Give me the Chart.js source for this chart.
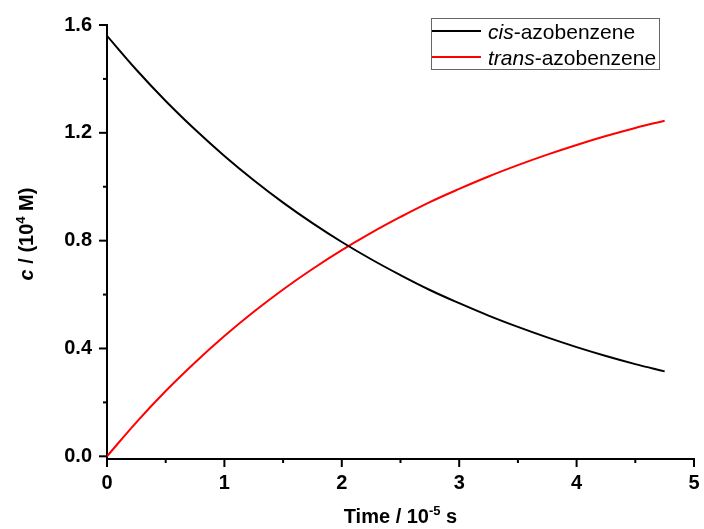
<!DOCTYPE html>
<html>
<head>
<meta charset="utf-8">
<script src="https://cdn.jsdelivr.net/npm/chart.js@4"></script>
<style>
  body { margin: 0; background: #fff; }
  #wrap { width: 704px; height: 529px; }
</style>
</head>
<body>
<div id="wrap"><canvas id="kinetics-chart"></canvas></div>
<script>
// data (time in 10^-5 s, concentration in 10^4 M)
let timeValues = [0, 0.25, 0.5, 0.75, 1, 1.25, 1.5, 1.75, 2, 2.25, 2.5, 2.75, 3, 3.25, 3.5, 3.75, 4, 4.25, 4.5, 4.75];
let cisValues = [1.560, 1.434, 1.318, 1.212, 1.114, 1.024, 0.941, 0.865, 0.795, 0.731, 0.672, 0.617, 0.568, 0.522, 0.480, 0.441, 0.405, 0.372, 0.342, 0.315];
let transValues = [0, 0.126, 0.242, 0.348, 0.446, 0.536, 0.619, 0.695, 0.765, 0.829, 0.888, 0.943, 0.992, 1.038, 1.080, 1.119, 1.155, 1.188, 1.218, 1.245];
let seriesLabels = ["cis-azobenzene", "trans-azobenzene"];
let seriesColors = ["#000000", "#ff0000"];

let xMajorTicks = [0, 1, 2, 3, 4, 5];
let xMinorTicks = [0.5, 1.5, 2.5, 3.5, 4.5];
let yMajorTicks = [0, 0.4, 0.8, 1.2, 1.6];
let yMinorTicks = [0.2, 0.6, 1.0, 1.4];

const fontFamily = "'Liberation Sans', Arial, sans-serif";

const toPoints = (xs, ys) => xs.map((x, i) => ({x: x, y: ys[i]}));

//tick marks, axis titles and legend
const decorPlugin = {
  id: "decorPlugin",
  afterDraw: (chart) => {
    const {ctx, scales: {x, y}, chartArea} = chart;
    ctx.save();
    ctx.strokeStyle = "#000";
    ctx.lineWidth = 2;

    const tick = (x1, y1, x2, y2) => {
      ctx.beginPath();
      ctx.moveTo(x1, y1);
      ctx.lineTo(x2, y2);
      ctx.stroke();
    };
    xMajorTicks.forEach(v => { let px = x.getPixelForValue(v); tick(px, chartArea.bottom, px, chartArea.bottom + 8); });
    xMinorTicks.forEach(v => { let px = x.getPixelForValue(v); tick(px, chartArea.bottom, px, chartArea.bottom + 4); });
    yMajorTicks.forEach(v => { let py = y.getPixelForValue(v); tick(chartArea.left, py, chartArea.left - 8, py); });
    yMinorTicks.forEach(v => { let py = y.getPixelForValue(v); tick(chartArea.left, py, chartArea.left - 4, py); });

    // draw a run of text pieces: [text, font, raise]
    const drawPieces = (pieces, cx, cy) => {
      let total = 0;
      pieces.forEach(p => { ctx.font = p[1]; total += ctx.measureText(p[0]).width; });
      let px = cx - total / 2;
      pieces.forEach(p => {
        ctx.font = p[1];
        ctx.fillText(p[0], px, cy - (p[2] || 0));
        px += ctx.measureText(p[0]).width;
      });
    };

    ctx.fillStyle = "#000";
    ctx.textBaseline = "alphabetic";
    ctx.textAlign = "left";
    const bold = `bold 20px ${fontFamily}`;
    const boldSup = `bold 13px ${fontFamily}`;

    // x title
    drawPieces([["Time / 10", bold], ["-5", boldSup, 8], [" s", bold]],
      (chartArea.left + chartArea.right) / 2, 523);

    // y title
    ctx.save();
    ctx.translate(33, 234);
    ctx.rotate(-Math.PI / 2);
    drawPieces([["c", `italic bold 20px ${fontFamily}`], [" / (10", bold], ["4", boldSup, 8], [" M)", bold]], 0, 0);
    ctx.restore();

    // legend
    ctx.strokeStyle = "#666";
    ctx.lineWidth = 1;
    ctx.strokeRect(431.5, 18.5, 228, 51);
    chart.data.datasets.forEach((ds, i) => {
      let ly = 31 + i * 26;
      ctx.strokeStyle = ds.borderColor;
      ctx.lineWidth = 2;
      tick(432, ly, 481, ly);
      let [head, ...rest] = ds.label.split("-");
      let tx = 488;
      ctx.font = `italic 21px ${fontFamily}`;
      ctx.fillText(head, tx, ly + 8);
      tx += ctx.measureText(head).width;
      ctx.font = `21px ${fontFamily}`;
      ctx.fillText("-" + rest.join("-"), tx, ly + 8);
    });
    ctx.restore();
  }
};

new Chart(document.getElementById("kinetics-chart"), {
  type: "scatter",
  data: {
    datasets: [
      {
        label: seriesLabels[0],
        data: toPoints(timeValues, cisValues),
        showLine: true,
        borderColor: seriesColors[0],
        borderWidth: 2,
        pointRadius: 0,
        tension: 0.4,
      },
      {
        label: seriesLabels[1],
        data: toPoints(timeValues, transValues),
        showLine: true,
        borderColor: seriesColors[1],
        borderWidth: 2,
        pointRadius: 0,
        tension: 0.4,
      }
    ]
  },
  plugins: [decorPlugin],
  options: {
    responsive: true,
    maintainAspectRatio: false,
    animation: false,
    layout: {
      padding: {top: 25, right: 10, left: 0, bottom: 0}
    },
    scales: {
      x: {
        type: "linear",
        min: 0,
        max: 5,
        afterBuildTicks: (scale) => { scale.ticks = xMajorTicks.map(v => ({value: v})); },
        afterFit: (scale) => {
          scale.height = 70;
          scale.paddingLeft = 0;
          scale.paddingRight = 0;
        },
        grid: { display: false, drawTicks: false },
        border: { display: true, color: "#000", width: 2 },
        ticks: {
          padding: 12,
          color: "#000",
          font: { family: fontFamily, size: 20, weight: "bold" },
          callback: (v) => v.toString(),
        }
      },
      y: {
        type: "linear",
        min: -0.01,
        max: 1.6,
        afterBuildTicks: (scale) => { scale.ticks = yMajorTicks.map(v => ({value: v})); },
        afterFit: (scale) => {
          scale.width = 107;
          scale.paddingTop = 0;
          scale.paddingBottom = 0;
        },
        grid: { display: false, drawTicks: false },
        border: { display: true, color: "#000", width: 2 },
        ticks: {
          padding: 15,
          color: "#000",
          font: { family: fontFamily, size: 20, weight: "bold" },
          callback: (v) => v.toFixed(1),
        }
      }
    },
    plugins: {
      legend: { display: false },
      tooltip: { enabled: false }
    }
  }
});
</script>
</body>
</html>
